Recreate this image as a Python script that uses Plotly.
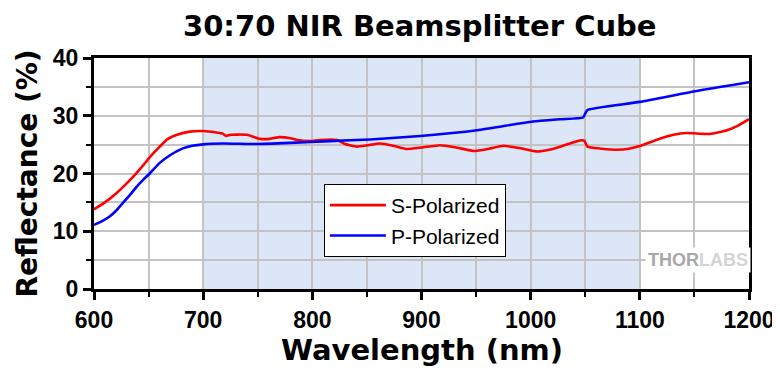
import plotly.graph_objects as go

# S-polarized reflectance (red)
wl_s = [600, 610, 620, 630, 636, 645, 651, 660, 667, 676, 688, 700, 712, 718, 721, 725,
        740, 752, 761, 770, 780, 786, 798, 807, 823, 830, 841, 851, 862, 874, 886, 900,
        917, 932, 948, 962, 975, 990, 1006, 1017, 1027, 1036, 1045, 1049, 1052, 1065,
        1079, 1090, 1100, 1115, 1131, 1143, 1164, 1180, 1190, 1200]
r_s = [13.8, 15.0, 16.5, 18.3, 19.45, 21.4, 22.8, 24.6, 25.9, 26.7, 27.25, 27.35, 27.1, 26.9, 26.5, 26.7,
       26.7, 26.0, 26.0, 26.3, 26.1, 25.8, 25.6, 25.8, 25.8, 25.1, 24.65, 24.9, 25.2, 24.8, 24.25, 24.5,
       24.9, 24.5, 23.9, 24.3, 24.8, 24.4, 23.8, 24.1, 24.65, 25.2, 25.7, 25.7, 24.65, 24.3,
       24.1, 24.3, 24.76, 25.8, 26.7, 27.0, 26.85, 27.5, 28.3, 29.4]

# P-polarized reflectance (blue)
wl_p = [600, 607, 614, 620, 626, 633, 639, 645, 651, 660, 670, 682, 690, 700, 718, 749, 780, 816,
        853, 899, 951, 1002, 1027, 1048, 1050, 1052, 1100, 1152, 1200]
r_p = [11.1, 11.7, 12.5, 13.5, 14.8, 16.3, 17.7, 18.9, 20.0, 21.8, 23.2, 24.4, 24.8, 25.05, 25.2,
       25.1, 25.3, 25.6, 25.9, 26.5, 27.5, 29.0, 29.4, 29.7, 30.4, 31.0, 32.4, 34.3, 35.8]

band = [700, 1100]
x_ticks = [600, 700, 800, 900, 1000, 1100, 1200]
y_ticks = [0, 10, 20, 30, 40]

fig = go.Figure()
fig.add_trace(go.Scatter(x=wl_s, y=r_s, mode="lines", name="S-Polarized",
                         line=dict(color="#ff0000", width=2.6, shape="spline", smoothing=0.5)))
fig.add_trace(go.Scatter(x=wl_p, y=r_p, mode="lines", name="P-Polarized",
                         line=dict(color="#0000ff", width=2.6, shape="spline", smoothing=0.5)))

fig.add_shape(type="rect", xref="x", yref="paper", x0=band[0], x1=band[1], y0=0, y1=1,
              fillcolor="#dce6f6", line=dict(width=0), layer="below")

tickfont = dict(family="Liberation Sans, Arial", size=23, color="black", weight="bold")
fig.update_xaxes(range=[600, 1200], tickvals=x_ticks, ticktext=[str(v) for v in x_ticks],
                 showline=True, linecolor="black", linewidth=3, mirror=True,
                 ticks="outside", ticklen=8, tickwidth=3, tickcolor="black",
                 showgrid=True, gridcolor="#c3c3c3", gridwidth=2, zeroline=False,
                 tickfont=tickfont, automargin=False,
                 minor=dict(dtick=50, tick0=600, ticks="outside", ticklen=5, tickwidth=2,
                            tickcolor="black", showgrid=True, gridcolor="#c3c3c3", gridwidth=2))
fig.update_yaxes(range=[0, 40], tickvals=y_ticks, ticktext=[str(v) for v in y_ticks],
                 showline=True, linecolor="black", linewidth=3, mirror=True,
                 ticks="outside", ticklen=8, tickwidth=3, tickcolor="black",
                 showgrid=True, gridcolor="#c3c3c3", gridwidth=2, zeroline=False,
                 tickfont=tickfont, automargin=False,
                 minor=dict(dtick=5, tick0=0, ticks="outside", ticklen=5, tickwidth=2,
                            tickcolor="black", showgrid=True, gridcolor="#c3c3c3", gridwidth=2))

# page has an 8px body margin, so the figure is sized 772x362
fig.update_layout(
    width=772, height=362,
    margin=dict(l=86, r=31, t=50, b=81, autoexpand=False),
    plot_bgcolor="white", paper_bgcolor="white",
    legend=dict(x=0.351, y=0.4545, xanchor="left", yanchor="top",
                bgcolor="white", bordercolor="black", borderwidth=1, itemwidth=56,
                font=dict(family="Liberation Sans, Arial", size=21, color="black")),
    showlegend=True,
)

fig.add_annotation(text="30:70 NIR Beamsplitter Cube", xref="paper", yref="paper",
                   x=0.497, y=1 + (58 - 26) / 231, showarrow=False,
                   xanchor="center", yanchor="middle",
                   font=dict(family="DejaVu Sans", size=29, color="black", weight="bold"))
fig.add_annotation(text="Wavelength (nm)", xref="paper", yref="paper", x=0.5, y=-0.264,
                   showarrow=False, xanchor="center", yanchor="middle",
                   font=dict(family="DejaVu Sans", size=29, color="black", weight="bold"))
fig.add_annotation(text="Reflectance (%)", xref="paper", yref="paper", x=-0.1008, y=0.5,
                   showarrow=False, xanchor="center", yanchor="middle", textangle=-90,
                   font=dict(family="DejaVu Sans", size=28, color="black", weight="bold"))
fig.add_annotation(text="<b><span style='color:#a8a8a8'>THOR</span><span style='color:#d4d4d4'>LABS</span></b>",
                   xref="x", yref="y", x=1153, y=5.1, showarrow=False,
                   xanchor="center", yanchor="middle", bgcolor="white", borderpad=2,
                   font=dict(family="Liberation Sans, Arial", size=18))

fig.write_html("out.html")
